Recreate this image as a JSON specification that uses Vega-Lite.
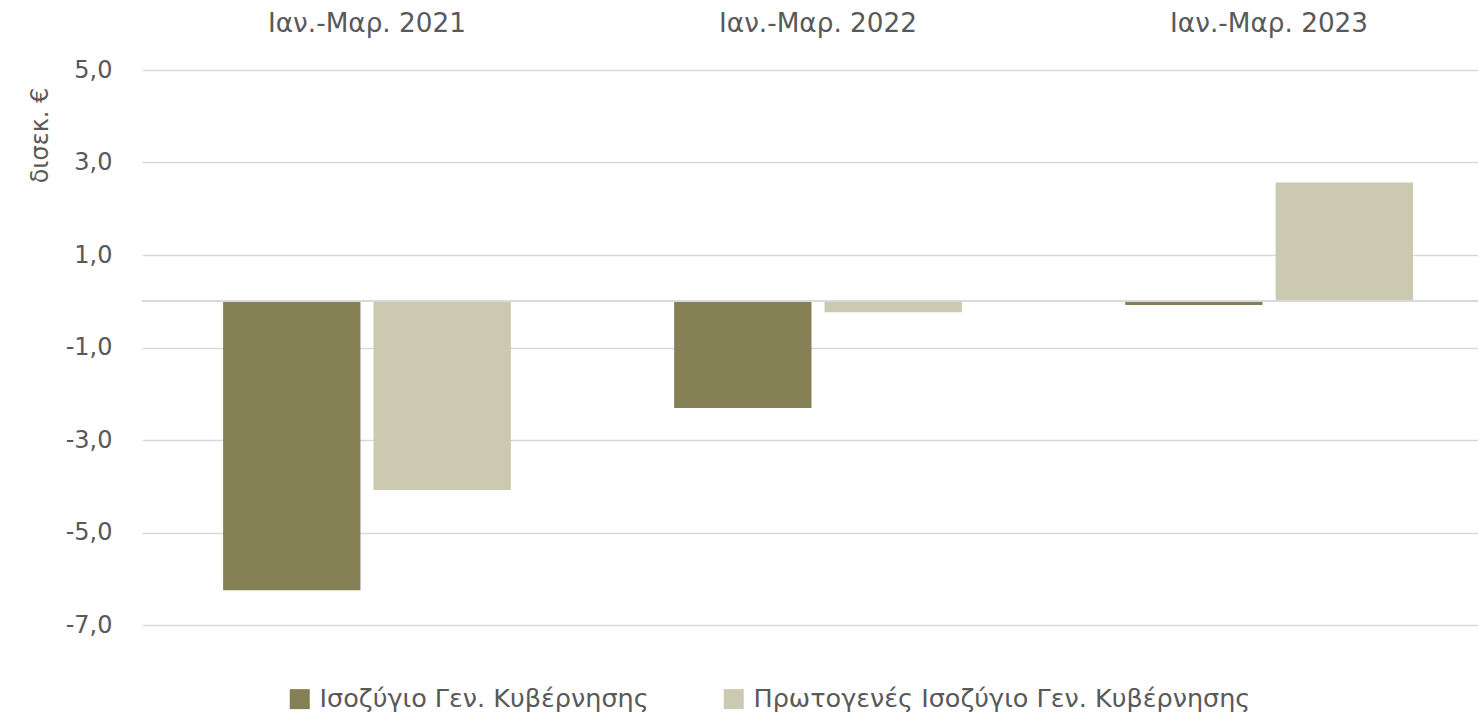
{
  "$schema": "https://vega.github.io/schema/vega-lite/v6.json",
  "width": 1336,
  "height": 555,
  "autosize": {"type": "none"},
  "padding": {"left": 142, "top": 70, "right": 0, "bottom": 90},
  "background": "white",
  "config": {
    "font": "DejaVu Sans",
    "view": {"stroke": null}
  },
  "data": {
    "values": [
      {"period": "Ιαν.-Μαρ. 2021", "series": "Ισοζύγιο Γεν. Κυβέρνησης", "value": -6.25},
      {"period": "Ιαν.-Μαρ. 2021", "series": "Πρωτογενές Ισοζύγιο Γεν. Κυβέρνησης", "value": -4.08},
      {"period": "Ιαν.-Μαρ. 2022", "series": "Ισοζύγιο Γεν. Κυβέρνησης", "value": -2.31},
      {"period": "Ιαν.-Μαρ. 2022", "series": "Πρωτογενές Ισοζύγιο Γεν. Κυβέρνησης", "value": -0.24},
      {"period": "Ιαν.-Μαρ. 2023", "series": "Ισοζύγιο Γεν. Κυβέρνησης", "value": -0.08},
      {"period": "Ιαν.-Μαρ. 2023", "series": "Πρωτογενές Ισοζύγιο Γεν. Κυβέρνησης", "value": 2.57}
    ]
  },
  "layer": [
    {
      "mark": {"type": "bar"},
      "encoding": {
        "x": {
          "field": "period", "type": "nominal", "sort": null,
          "scale": {"paddingInner": 0.362, "paddingOuter": 0.162, "align": 0.555},
          "axis": {"orient": "top", "title": null, "ticks": false, "domain": false, "labelAngle": 0,
                   "labelFontSize": 26.3, "labelColor": "#595959", "labelPadding": 33, "labelLimit": 0, "labelFont": "DejaVu Sans"}
        },
        "xOffset": {"field": "series", "type": "nominal", "sort": null, "scale": {"paddingInner": 0.087}},
        "y": {
          "field": "value", "type": "quantitative", "title": "δισεκ. €",
          "scale": {"domain": [-7, 5], "nice": false, "zero": false},
          "axis": {
            "values": [-7, -5, -3, -1, 1, 3, 5],
            "labelExpr": "(datum.value < 0 ? '-' : '') + replace(format(abs(datum.value), '.1f'), '.', ',')",
            "grid": true, "gridColor": "#d9d9d9", "gridWidth": 1.5,
            "domain": false, "ticks": false, "labelPadding": 30,
            "labelFontSize": 24, "labelColor": "#595959",
            "titleFontSize": 24, "titleFontWeight": "normal", "titleColor": "#595959",
            "titleAngle": -90, "titleX": -102, "titleY": 65, "titleAlign": "center", "titleBaseline": "middle"
          }
        },
        "color": {
          "field": "series", "type": "nominal",
          "scale": {"domain": ["Ισοζύγιο Γεν. Κυβέρνησης", "Πρωτογενές Ισοζύγιο Γεν. Κυβέρνησης"], "range": ["#847f55", "#cbc9b0"]},
          "legend": {
            "orient": "none", "legendX": 145, "legendY": 616, "direction": "horizontal", "title": null,
            "symbolType": "square", "symbolSize": 400, "symbolStrokeWidth": 0,
            "labelFontSize": 25.5, "labelColor": "#595959", "labelOffset": 7, "columnPadding": 72, "labelLimit": 0
          }
        }
      }
    },
    {
      "mark": {"type": "rule", "color": "#d9d9d9", "strokeWidth": 1.5},
      "encoding": {"y": {"datum": 0, "type": "quantitative", "title": "δισεκ. €"}}
    }
  ]
}
